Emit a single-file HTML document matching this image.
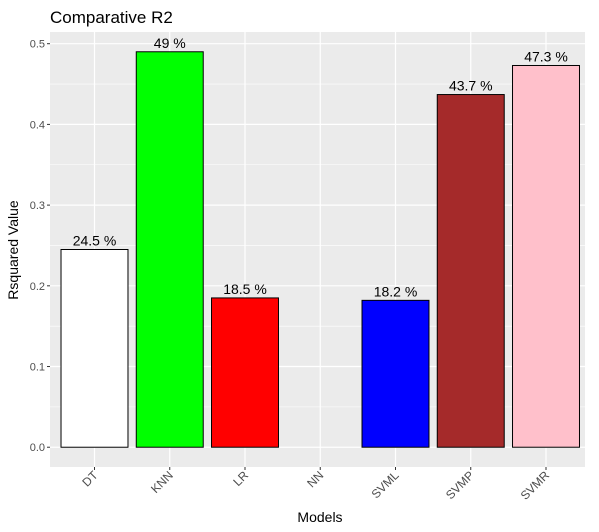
<!DOCTYPE html>
<html><head><meta charset="utf-8"><style>
body{margin:0;background:#fff;font-family:"Liberation Sans",Arial,sans-serif}
svg{display:block}
</style></head><body>
<svg id="chart" width="599" height="532" viewBox="0 0 599 532" xmlns="http://www.w3.org/2000/svg">
<text x="50" y="23" font-size="17" fill="#000">Comparative R2</text>
<rect x="50" y="32" width="535" height="435" fill="#ebebeb"/>
<g id="grid"></g><g id="bars"></g><g id="axes"></g>
<text x="320" y="522" font-size="14" text-anchor="middle" fill="#000">Models</text>
<text transform="translate(18,250) rotate(-90)" font-size="14" text-anchor="middle" fill="#000">Rsquared Value</text>
</svg>
<script>
const categories=["DT","KNN","LR","NN","SVML","SVMP","SVMR"];
const values=[0.245,0.49,0.185,0,0.182,0.437,0.473];
const labels=["24.5 %","49 %","18.5 %","","18.2 %","43.7 %","47.3 %"];
const colors=["#ffffff","#00ff00","#ff0000","#888888","#0000ff","#a52a2a","#ffc0cb"];
const yTicks=[0,0.1,0.2,0.3,0.4,0.5];
const NS="http://www.w3.org/2000/svg";
const pL=50,pR=585,pT=32,pB=467;
const ymax=Math.max(...values);
const y0=-0.05*ymax,y1=ymax*1.05;
const yS=v=>pB-(v-y0)/(y1-y0)*(pB-pT);
const step=75.25;
const xS=i=>pL+44.5+step*i;
function mk(tag,attrs,parent){const e=document.createElementNS(NS,tag);for(const k in attrs)e.setAttribute(k,attrs[k]);parent.appendChild(e);return e;}
const grid=document.getElementById('grid'),bars=document.getElementById('bars'),axes=document.getElementById('axes');
for(let k=0;k<yTicks.length-1;k++){const m=(yTicks[k]+yTicks[k+1])/2;
 const l=mk('line',{x1:pL,x2:pR,y1:yS(m),y2:yS(m),stroke:'#fff','stroke-width':0.6},grid);
 
 }
yTicks.forEach(t=>{
 const l=mk('line',{x1:pL,x2:pR,y1:yS(t),y2:yS(t),stroke:'#fff','stroke-width':1.2},grid);
 
 
 const tk=mk('line',{x1:pL-3,x2:pL,y1:yS(t),y2:yS(t),stroke:'#333','stroke-width':1},axes);
 
 
 const tx=mk('text',{x:pL-5,y:yS(t)+4,'font-size':11,'text-anchor':'end',fill:'#4d4d4d'},axes);
 tx.textContent=t.toFixed(1);
 
 
});
categories.forEach((c,i)=>{
 const cx=xS(i);
 const g=mk('line',{x1:cx,x2:cx,y1:pT,y2:pB,stroke:'#fff','stroke-width':1.2},grid);
 
 
 const w=step*0.89;
 if(values[i]>0){
  const r=mk('rect',{x:cx-w/2,y:yS(values[i]),width:w,height:yS(0)-yS(values[i]),fill:colors[i],stroke:'#000','stroke-width':1},bars);
  
  
  const lt=mk('text',{x:cx,y:yS(values[i])-4,'font-size':14,'text-anchor':'middle',fill:'#000'},bars);
  lt.textContent=labels[i];
  
  
 }
 const tk=mk('line',{x1:cx,x2:cx,y1:pB,y2:pB+3,stroke:'#333','stroke-width':1},axes);
 
 
 const tx=mk('text',{transform:`translate(${cx+4},${pB+9}) rotate(-45)`,'font-size':12,'text-anchor':'end',fill:'#4d4d4d'},axes);
 tx.textContent=c;
 
 
});
</script>
</body></html>
